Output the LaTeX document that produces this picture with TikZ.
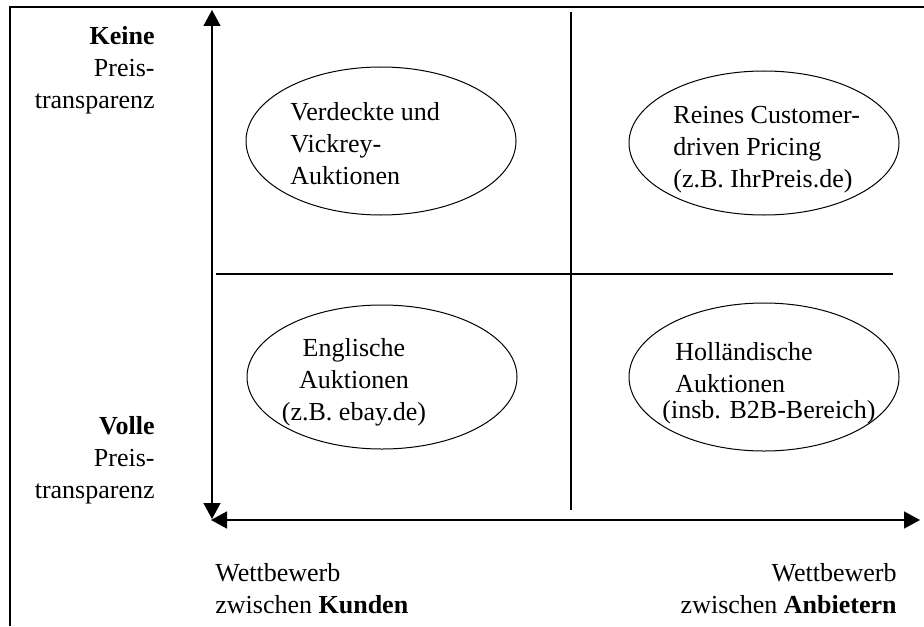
\documentclass[tikz,border=0pt]{standalone}
\usepackage{fontspec}
\setmainfont{Liberation Serif}
\usepackage{tikz}
\usetikzlibrary{arrows.meta,shapes.geometric}

\begin{document}
\begin{tikzpicture}[x=0.5pt,y=-0.5pt,
    achse/.style={line width=0.75pt,{Triangle[length=8pt,width=8.5pt]}-{Triangle[length=8pt,width=8.5pt]}},
    feld/.style={ellipse,draw,line width=0.5pt,inner sep=0pt,minimum width=135pt,minimum height=74pt},
    txt/.style={font=\fontsize{13}{16}\selectfont,inner sep=0pt}]
      \useasboundingbox (0,0) rectangle (924,626);
      % Rahmen
      \draw[line width=1pt] (10,626)--(10,7)--(924,7);
      % Achsen
      \coordinate (oben) at (212,10);
      \coordinate (ursprung) at (212,520);
      \coordinate (rechts) at (920,520);
      \draw[achse] (oben)--(212,519);
      \draw[achse] (211,520)--(rechts);
      \draw[line width=1pt] (216,274)--(893,274);
      \draw[line width=1pt] (571,12)--(571,510);
      % Felder
      \node[feld] (vickrey) at (381,141) {};
      \node[feld,minimum height=72pt] (customer) at (764,143) {};
      \node[feld,minimum height=72pt] (englisch) at (382,377) {};
      \node[feld] (holland) at (764,377) {};
      % Texte (base = letzte Zeile)
      \node[txt,anchor=base west,align=left] at (290,184) {Verdeckte und\\Vickrey-\\Auktionen};
      \node[txt,anchor=base west,align=left] at (673,187) {Reines Customer-\\driven Pricing\\(z.B. IhrPreis.de)};
      \node[txt,anchor=base,align=center] at (354,420) {Englische\\Auktionen\\(z.B. ebay.de)};
      \node[txt,anchor=base west,align=left] at (675,418) {Holländische\\Auktionen\\[-3pt]\hspace*{-6.5pt}(insb. B2B-Bereich)};
      % Beschriftung
      \node[txt,anchor=base east,align=right] at (155,108) {\textbf{Keine}\\Preis-\\transparenz};
      \node[txt,anchor=base east,align=right] at (155,498) {\textbf{Volle}\\Preis-\\transparenz};
      \node[txt,anchor=base west,align=left] at (215,613) {Wettbewerb\\zwischen \textbf{Kunden}};
      \node[txt,anchor=base east,align=right] at (897,613) {Wettbewerb\\zwischen \textbf{Anbietern}};
\end{tikzpicture}
\end{document}
